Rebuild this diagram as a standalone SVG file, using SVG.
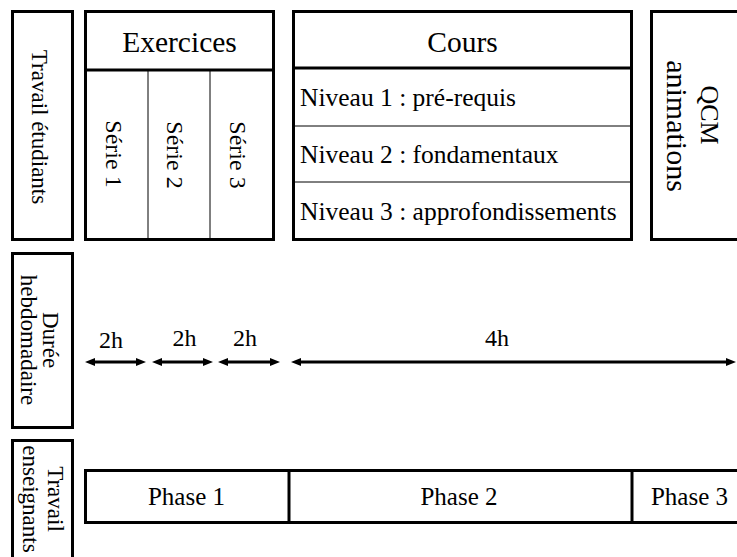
<svg xmlns="http://www.w3.org/2000/svg" width="737" height="557" viewBox="0 0 737 557" font-family="'Liberation Serif', 'Times New Roman', 'DejaVu Serif', serif">
<style>
.box{fill:#fff;stroke:#000;stroke-width:3}
.thick{stroke:#000;stroke-width:3;fill:none}
.thin{stroke:#000;stroke-width:1;fill:none}
text{font-family:'Liberation Serif','Times New Roman','DejaVu Serif',serif;fill:#000}
.h{font-size:29.5px}
.n{font-size:25.5px}
.p{font-size:25px}
.t{font-size:24px}
.s{font-size:23px}
.c{text-anchor:middle}
.arr{stroke:#000;stroke-width:3;fill:none;marker-start:url(#ah);marker-end:url(#ah)}
</style>
<defs>
<marker id="ah" markerUnits="userSpaceOnUse" markerWidth="10" markerHeight="8" refX="3" refY="4" orient="auto-start-reverse" viewBox="0 0 10 8">
<path d="M0,0 L10,4 L0,8 z" fill="#000"/>
</marker>
</defs>
<rect width="737" height="557" fill="#fff"/>

<g id="travail-etudiants">
<rect class="box" x="12.5" y="11.5" width="60" height="228"/>
<text class="s c" transform="translate(32,127) rotate(90)">Travail étudiants</text>
</g>

<g id="exercices">
<rect class="box" x="85.5" y="11.5" width="188" height="228"/>
<line class="thick" x1="85.5" y1="70" x2="273.5" y2="70"/>
<line class="thin" x1="148" y1="70" x2="148" y2="239.5"/>
<line class="thin" x1="210" y1="70" x2="210" y2="239.5"/>
<text class="h c" x="179.5" y="52">Exercices</text>
<text class="t c" transform="translate(106,154) rotate(90)">Série 1</text>
<text class="t c" transform="translate(167,155) rotate(90)">Série 2</text>
<text class="t c" transform="translate(230,155) rotate(90)">Série 3</text>
</g>

<g id="cours">
<rect class="box" x="293.5" y="11.5" width="338" height="228"/>
<line class="thick" x1="293.5" y1="68" x2="631.5" y2="68"/>
<line class="thin" x1="293.5" y1="126" x2="631.5" y2="126"/>
<line class="thin" x1="293.5" y1="182" x2="631.5" y2="182"/>
<text class="h c" x="462.5" y="52">Cours</text>
<text class="n" x="300" y="106">Niveau 1 : pré-requis</text>
<text class="n" x="300" y="163">Niveau 2 : fondamentaux</text>
<text class="n" x="300" y="220">Niveau 3 : approfondissements</text>
</g>

<g id="qcm">
<rect class="box" x="651.5" y="11.5" width="100" height="228"/>
<text class="c" font-size="26" transform="translate(701,115) rotate(90)">QCM</text>
<text class="c" font-size="30" transform="translate(667,126) rotate(90)">animations</text>
</g>

<g id="duree">
<rect class="box" x="12.5" y="253.5" width="60" height="174"/>
<text class="s c" transform="translate(43,340) rotate(90)">Durée</text>
<text class="s c" transform="translate(21,340) rotate(90)">hebdomadaire</text>
</g>

<g id="connectors">
<line class="arr" x1="92" y1="362" x2="139" y2="362"/>
<line class="arr" x1="159" y1="362" x2="206" y2="362"/>
<line class="arr" x1="225" y1="362" x2="273" y2="362"/>
<line class="arr" x1="298" y1="362" x2="729" y2="362"/>
</g>

<g id="durations">
<text class="t c" x="111" y="348">2h</text>
<text class="t c" x="184.5" y="346">2h</text>
<text class="t c" x="245" y="346">2h</text>
<text class="t c" x="497" y="346">4h</text>
</g>

<g id="travail-enseignants">
<rect class="box" x="12.5" y="440.5" width="60" height="130"/>
<text class="s c" transform="translate(48,499) rotate(90)">Travail</text>
<text class="s c" transform="translate(23,499) rotate(90)">enseignants</text>
</g>

<g id="phases">
<rect class="box" x="85.5" y="470.5" width="660" height="52"/>
<line class="thick" x1="289" y1="470.5" x2="289" y2="522.5"/>
<line class="thick" x1="632" y1="470.5" x2="632" y2="522.5"/>
<text class="p c" x="186.5" y="505">Phase 1</text>
<text class="p c" x="459" y="505">Phase 2</text>
<text class="p c" x="689.5" y="505">Phase 3</text>
</g>
</svg>
